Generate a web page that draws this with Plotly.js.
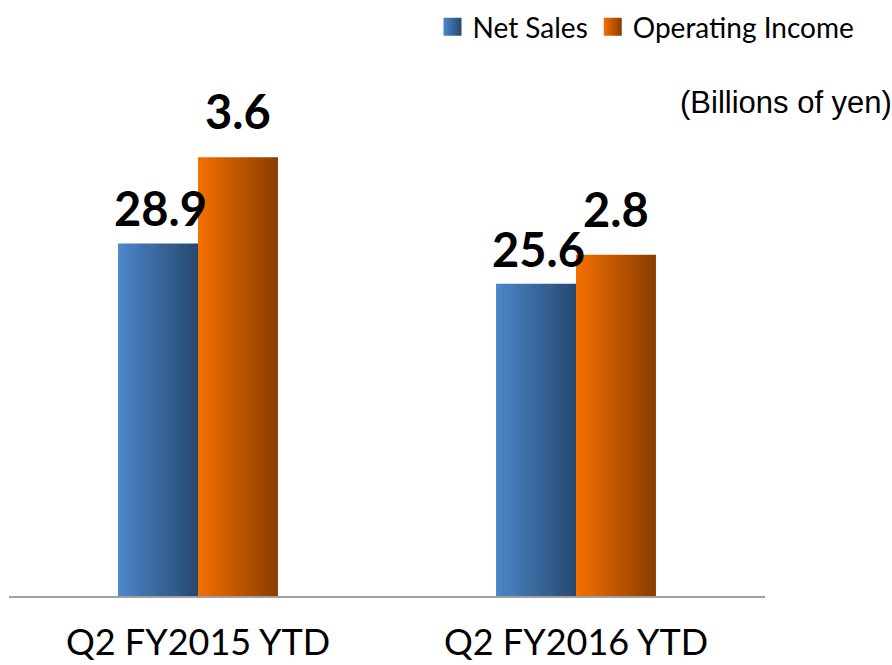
<!DOCTYPE html>
<html>
<head>
<meta charset="utf-8">
<script src="https://cdn.plot.ly/plotly-3.0.1.min.js"></script>
<style>
  html, body { margin: 0; padding: 0; background: #fff; }
  #chart { width: 892px; height: 665px; }
</style>
</head>
<body>
<div id="chart"></div>
<script>
// ---- data ----
var categories = ["Q2 FY2015 YTD", "Q2 FY2016 YTD"];
var netSales = [28.9, 25.6];
var operatingIncome = [3.6, 2.8];
var seriesNames = ["Net Sales", "Operating Income"];
var unitLabel = "(Billions of yen)";

var labelFont = {family: "Lato, 'Open Sans', sans-serif", size: 47, color: "#000", weight: 700};

var traces = [
  {
    type: "bar", name: seriesNames[0], x: categories, y: netSales,
    yaxis: "y", offsetgroup: "1",
    marker: {color: "#3a6aa3", line: {width: 0}},
    hoverinfo: "skip"
  },
  {
    type: "bar", name: seriesNames[1], x: categories, y: operatingIncome,
    yaxis: "y2", offsetgroup: "2",
    marker: {color: "#c85400", line: {width: 0}},
    hoverinfo: "skip"
  }
];

var annotations = [];
categories.forEach(function (c, i) {
  annotations.push({
    x: c, y: netSales[i], xref: "x", yref: "y",
    text: netSales[i].toFixed(1), showarrow: false,
    xanchor: "center", yanchor: "bottom", xshift: -38, yshift: 5,
    font: labelFont
  });
  annotations.push({
    x: c, y: operatingIncome[i], xref: "x", yref: "y2",
    text: operatingIncome[i].toFixed(1), showarrow: false,
    xanchor: "center", yanchor: "bottom", xshift: 40, yshift: 16,
    font: labelFont
  });
});
annotations.push({
  xref: "paper", yref: "paper", x: 1.171, y: 0.994,
  xanchor: "right", yanchor: "middle", showarrow: false,
  text: unitLabel,
  font: {family: "'Liberation Sans Narrow', 'Arial Narrow', 'Liberation Sans', sans-serif", size: 31, color: "#000"}
});

var layout = {
  width: 892, height: 665,
  margin: {l: 9, r: 127, t: 100, b: 69, autoexpand: false},
  paper_bgcolor: "#fff", plot_bgcolor: "#fff",
  barmode: "group", bargap: 0.577, bargroupgap: 0,
  showlegend: true,
  legend: {
    orientation: "h", x: 1.125, xanchor: "right", y: 1.147, yanchor: "middle",
    font: {family: "Lato, 'Open Sans', sans-serif", size: 28, color: "#000"},
    bgcolor: "rgba(0,0,0,0)", itemclick: false, traceorder: "normal"
  },
  xaxis: {
    type: "category", showline: true, linecolor: "#a0a0a0", linewidth: 2,
    ticks: "", showgrid: false, zeroline: false, automargin: false,
    tickfont: {family: "Lato, 'Open Sans', sans-serif", size: 36, color: "#000"},
    ticklabelstandoff: 14
  },
  yaxis: {range: [0, 40.66], visible: false, showgrid: false, zeroline: false},
  yaxis2: {range: [0, 4.07], overlaying: "y", side: "right", visible: false, showgrid: false, zeroline: false},
  annotations: annotations
};

function addGradients(gd) {
  var svg = gd.querySelector("svg.main-svg");
  if (!svg) return;
  var ns = "http://www.w3.org/2000/svg";
  var defs = svg.querySelector("defs");
  if (!defs) { defs = document.createElementNS(ns, "defs"); svg.insertBefore(defs, svg.firstChild); }
  function grad(id, c1, c2) {
    if (document.getElementById(id)) return;
    var g = document.createElementNS(ns, "linearGradient");
    g.setAttribute("id", id);
    g.setAttribute("x1", "0"); g.setAttribute("y1", "0");
    g.setAttribute("x2", "1"); g.setAttribute("y2", "0");
    [[0, c1], [1, c2]].forEach(function (s) {
      var st = document.createElementNS(ns, "stop");
      st.setAttribute("offset", s[0]);
      st.setAttribute("stop-color", s[1]);
      g.appendChild(st);
    });
    defs.appendChild(g);
  }
  grad("gradBlue", "#4b87ca", "#26486f");
  grad("gradOrange", "#f47000", "#8a3b00");
  var ids = ["gradBlue", "gradOrange"];
  gd.querySelectorAll(".barlayer .trace").forEach(function (t, i) {
    t.querySelectorAll("path").forEach(function (p) { p.style.fill = "url(#" + ids[i] + ")"; });
  });
  gd.querySelectorAll(".legend .traces").forEach(function (t, i) {
    t.querySelectorAll(".legendpoints path").forEach(function (p) {
      p.style.fill = "url(#" + ids[i] + ")";
      p.setAttribute("d", "M9,9H-9V-9H9Z");
    });
  });
}

var gd = document.getElementById("chart");
Plotly.newPlot(gd, traces, layout, {displayModeBar: false, staticPlot: true}).then(function () {
  addGradients(gd);
  gd.on("plotly_afterplot", function () { addGradients(gd); });
  setTimeout(function () { addGradients(gd); }, 50);
  setTimeout(function () { addGradients(gd); }, 300);
});
</script>
</body>
</html>
